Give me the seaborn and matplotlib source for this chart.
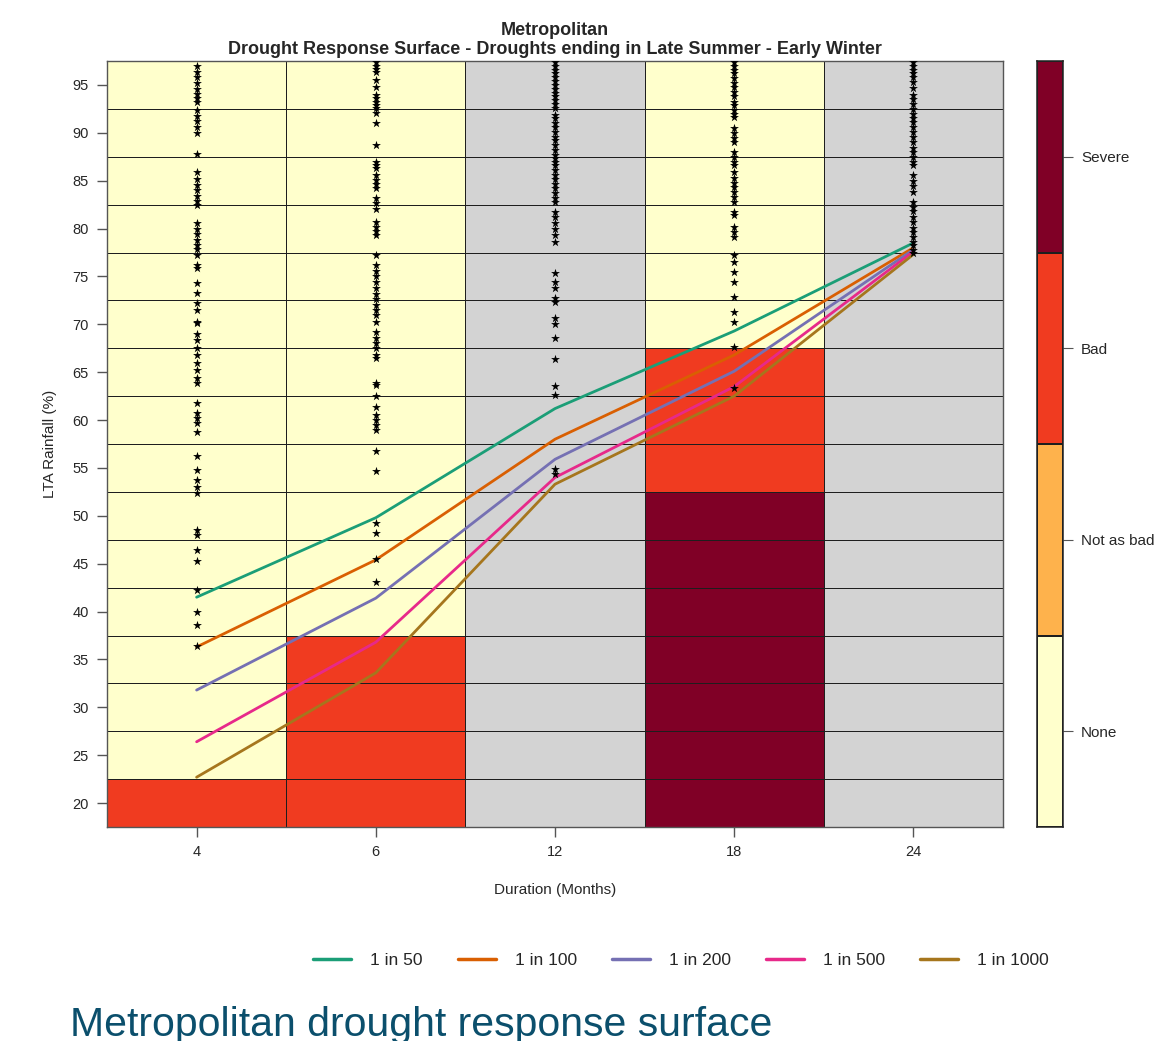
import numpy as np
import pandas as pd
import matplotlib
matplotlib.use("Agg")
import matplotlib.pyplot as plt
from matplotlib.colors import ListedColormap, BoundaryNorm
from matplotlib.lines import Line2D
import seaborn as sns

sns.set_style("white")
plt.rcParams['font.family'] = ['Liberation Sans', 'DejaVu Sans']

# ---------------- data ----------------
durations = ["4", "6", "12", "18", "24"]
rainfall_levels = [20, 25, 30, 35, 40, 45, 50, 55, 60, 65, 70, 75, 80, 85, 90, 95]

severity_names = ["None", "Not as bad", "Bad", "Severe"]
severity_colors = ["#FFFFCC", "#FEB24C", "#F03B20", "#800026"]
nodata_color = "#D3D3D3"

# category of each cell, bottom (20%) to top (95%), one list per duration
cells_4 = ["Bad"] + ["None"] * 15
cells_6 = ["Bad"] * 4 + ["None"] * 12
cells_12 = ["NA"] * 16
cells_18 = ["Severe"] * 7 + ["Bad"] * 3 + ["None"] * 6
cells_24 = ["NA"] * 16

return_periods = ["1 in 50", "1 in 100", "1 in 200", "1 in 500", "1 in 1000"]
rp_50 = [41.5, 49.8, 61.2, 69.3, 78.5]
rp_100 = [36.3, 45.4, 58.0, 66.8, 78.0]
rp_200 = [31.8, 41.4, 55.9, 65.1, 77.8]
rp_500 = [26.4, 36.8, 54.0, 63.5, 77.6]
rp_1000 = [22.7, 33.6, 53.3, 62.5, 77.3]
line_colors = ["#1B9E77", "#D95F02", "#7570B3", "#E7298A", "#A6761D"]

# observed drought events (LTA rainfall %) per duration
obs_4 = [97.0, 96.4, 95.8, 95.2, 94.6, 94.1, 93.6, 93.2, 92.4, 91.8, 91.2, 90.6,
         90.0, 87.8, 85.9, 85.2, 84.6, 84.0, 83.4, 82.9, 82.5, 80.6, 80.0, 79.4,
         78.8, 78.3, 77.9, 77.2, 76.2, 75.9, 74.3, 73.3, 72.2, 71.5, 70.2, 70.1,
         69.0, 68.4, 67.5, 66.8, 66.0, 65.2, 64.4, 63.9, 61.8, 60.7, 60.2, 59.7,
         58.8, 56.2, 54.8, 53.7, 53.0, 52.4, 48.5, 48.0, 46.4, 45.3, 42.2, 40.0,
         38.6, 36.4]
obs_6 = [97.4, 97.0, 96.7, 96.3, 95.5, 94.8, 94.0, 93.6, 93.2, 92.9, 92.6, 92.1,
         91.0, 88.7, 87.0, 86.6, 86.3, 85.6, 85.1, 84.7, 84.2, 83.2, 82.7, 82.0,
         80.7, 80.2, 79.7, 79.3, 77.2, 76.2, 75.6, 75.0, 74.4, 73.8, 73.2, 72.6,
         72.0, 71.5, 71.0, 70.2, 69.2, 68.6, 68.0, 67.5, 66.8, 66.5, 63.9, 63.7,
         62.5, 61.4, 60.5, 60.0, 59.5, 59.0, 56.8, 54.7, 49.2, 48.2, 45.5, 43.1]
obs_12 = [97.4, 97.0, 96.6, 96.2, 95.8, 95.4, 95.0, 94.6, 94.2, 93.8, 93.4, 93.0,
          92.6, 91.9, 91.5, 91.0, 90.6, 90.1, 89.6, 89.2, 88.7, 88.2, 87.7, 87.4,
          87.0, 86.6, 86.1, 85.6, 85.2, 84.7, 84.2, 83.7, 83.2, 82.8, 81.7, 81.2,
          80.6, 80.0, 79.3, 78.6, 75.4, 74.4, 73.8, 72.8, 72.3, 70.7, 70.0, 68.6,
          66.4, 63.6, 62.6, 54.9, 54.4]
obs_18 = [97.4, 97.0, 96.6, 96.2, 95.7, 95.2, 94.8, 94.3, 93.8, 93.2, 92.9, 92.4,
          92.0, 91.6, 90.5, 90.0, 89.5, 89.0, 88.0, 87.5, 87.0, 86.6, 85.9, 85.3,
          84.8, 84.3, 83.8, 83.3, 82.8, 81.7, 81.4, 80.2, 79.6, 79.1, 77.2, 76.5,
          75.5, 74.4, 72.9, 71.3, 70.2, 67.6, 63.4]
obs_24 = [97.4, 97.0, 96.6, 96.2, 95.8, 95.3, 94.7, 94.0, 93.5, 93.0, 92.5, 92.0,
          91.5, 91.1, 90.6, 90.1, 89.6, 89.0, 88.4, 88.0, 87.5, 87.0, 86.6, 85.6,
          85.0, 84.4, 83.8, 82.8, 82.3, 81.8, 81.2, 80.7, 80.1, 79.6, 79.1, 78.6,
          78.3, 77.8, 77.4]

# ---------------- tables ----------------
all_cells = [cells_4, cells_6, cells_12, cells_18, cells_24]
code_map = {name: i for i, name in enumerate(severity_names)}
code_map["NA"] = 4
grid_codes = np.array([[code_map[c] for c in col] for col in all_cells]).T  # rows x cols

x_pos = np.arange(len(durations))
x_edges = np.arange(len(durations) + 1) - 0.5
y_edges = np.array(rainfall_levels + [rainfall_levels[-1] + 5]) - 2.5

rp_values = [rp_50, rp_100, rp_200, rp_500, rp_1000]
lines_df = pd.DataFrame({
    "pos": np.tile(x_pos, len(return_periods)),
    "rain": np.concatenate(rp_values),
    "period": np.repeat(return_periods, len(durations)),
})

obs_all = [obs_4, obs_6, obs_12, obs_18, obs_24]
obs_df = pd.DataFrame({
    "pos": np.concatenate([[p] * len(o) for p, o in zip(x_pos, obs_all)]),
    "rain": np.concatenate(obs_all),
})

# ---------------- figure ----------------
fig = plt.figure(figsize=(11.63, 10.41), dpi=100)
ax = fig.add_axes([107 / 1163, 1 - 827 / 1041, 896 / 1163, 766 / 1041])
cax = fig.add_axes([1037 / 1163, 1 - 827 / 1041, 26 / 1163, 766 / 1041])

cmap = ListedColormap(severity_colors + [nodata_color])
norm = BoundaryNorm(np.arange(-0.5, 5.5, 1), cmap.N)
ax.pcolormesh(x_edges, y_edges, grid_codes, cmap=cmap, norm=norm,
              edgecolor="#1e1e1e", linewidth=0.7, zorder=1)

sns.lineplot(data=lines_df, x="pos", y="rain", hue="period",
             hue_order=return_periods, palette=line_colors, linewidth=2.0,
             ax=ax, legend=False, zorder=3)
sns.scatterplot(data=obs_df, x="pos", y="rain", marker="*", color="black",
                s=45, linewidth=0, ax=ax, zorder=4)

ax.set_xlim(-0.5, len(durations) - 0.5)
ax.set_ylim(y_edges[0], y_edges[-1])
ax.set_xticks(x_pos)
ax.set_xticklabels(durations)
ax.set_yticks(rainfall_levels)
ax.set_yticklabels([str(v) for v in rainfall_levels])
ax.tick_params(axis="both", which="both", direction="out", length=7, width=1,
               color="#555555", labelsize=10.5, left=True, bottom=True, pad=6)
ax.set_xlabel("Duration (Months)", fontsize=11, labelpad=17)
ax.set_ylabel("LTA Rainfall (%)", fontsize=11, labelpad=11)
for sp in ax.spines.values():
    sp.set_color("#555555")
    sp.set_linewidth(1)

ax.set_title("Metropolitan\nDrought Response Surface - Droughts ending in Late Summer - Early Winter",
             fontsize=13, fontweight="bold", pad=5, linespacing=1.15)

# colour key
cmap_key = ListedColormap(severity_colors)
cax.pcolormesh([0, 1], np.arange(len(severity_names) + 1), np.arange(len(severity_names)).reshape(-1, 1),
               cmap=cmap_key, vmin=-0.5, vmax=len(severity_names) - 0.5,
               edgecolor="#1e1e1e", linewidth=1.1)
cax.set_xlim(0, 1)
cax.set_ylim(0, len(severity_names))
cax.set_xticks([])
cax.yaxis.tick_right()
cax.set_yticks(np.arange(len(severity_names)) + 0.5)
cax.set_yticklabels(severity_names)
cax.tick_params(axis="y", right=True, left=False, direction="out", length=7,
                color="#555555", labelsize=11, pad=6)
for sp in cax.spines.values():
    sp.set_color("#222222")
    sp.set_linewidth(1.1)

# legend
handles = [Line2D([0], [0], color=c, lw=2.5) for c in line_colors]
fig.legend(handles, return_periods, loc="center", ncol=5, frameon=False,
           bbox_to_anchor=(681 / 1163, 1 - 960 / 1041), fontsize=12.5,
           handlelength=2.2, columnspacing=2.0, handletextpad=1.1)

fig.text(70 / 1163, 1 - 1036 / 1041, "Metropolitan drought response surface",
         fontsize=29.5, color="#0B4F6C", ha="left", va="baseline")

fig.savefig("out.png", dpi=100)
